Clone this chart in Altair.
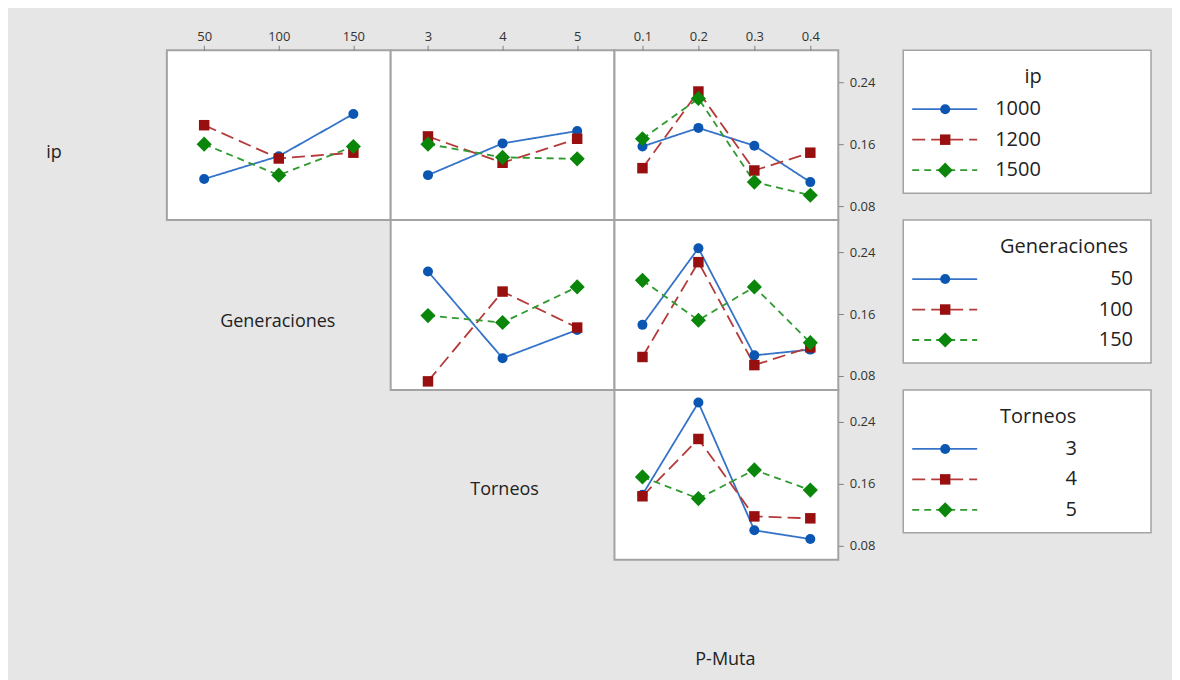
import altair as alt
import pandas as pd

# ---------------- data ----------------
gen_levels = [50, 100, 150]
tor_levels = [3, 4, 5]
pm_levels = [0.1, 0.2, 0.3, 0.4]
ip_labels = ["1000", "1200", "1500"]
gen_labels = ["50", "100", "150"]
tor_labels = ["3", "4", "5"]

# Row 1: series = ip levels
ip1000_gen = [0.115, 0.1445, 0.199]
ip1200_gen = [0.1845, 0.1415, 0.149]
ip1500_gen = [0.160, 0.120, 0.157]
ip1000_tor = [0.120, 0.161, 0.177]
ip1200_tor = [0.170, 0.136, 0.167]
ip1500_tor = [0.160, 0.143, 0.141]
ip1000_pm = [0.157, 0.181, 0.158, 0.111]
ip1200_pm = [0.129, 0.228, 0.126, 0.149]
ip1500_pm = [0.167, 0.219, 0.111, 0.094]
# Row 2: series = Generaciones levels
gen50_tor = [0.215, 0.103, 0.1395]
gen100_tor = [0.073, 0.189, 0.1425]
gen150_tor = [0.158, 0.149, 0.195]
gen50_pm = [0.146, 0.245, 0.1066, 0.114]
gen100_pm = [0.1045, 0.227, 0.094, 0.117]
gen150_pm = [0.2035, 0.152, 0.195, 0.123]
# Row 3: series = Torneos levels
tor3_pm = [0.146, 0.265, 0.100, 0.0887]
tor4_pm = [0.144, 0.218, 0.118, 0.1155]
tor5_pm = [0.169, 0.141, 0.178, 0.152]

y_ticks = [0.08, 0.16, 0.24]

# ---------------- styles ----------------
FONT = "Open Sans"
KEYS = ["a", "b", "c"]
LINE_COLORS = ["#3573c8", "#b53a3a", "#2f9a2f"]
MARK_COLORS = ["#0b56b2", "#980f0f", "#0a860a"]
DASHES = [[1, 0], [13, 6], [7, 5]]
SHAPES = ["circle", "square", "diamond"]
SIZES = [100, 110, 230]
PW, PH = 224, 170
C0W = 158
GAPW = 65
LGW, LGH = 248, 143
YDOM = [0.0619, 0.2813]
BORDER = "#a3a3a3"
BG = "#e6e6e6"

stroke_enc = alt.Stroke("k:N", scale=alt.Scale(domain=KEYS, range=LINE_COLORS), legend=None)
dash_enc = alt.StrokeDash("k:N", scale=alt.Scale(domain=KEYS, range=DASHES), legend=None)


def make_df(xs, series):
    rows = []
    for k, ys in zip(KEYS, series):
        for xv, yv in zip(xs, ys):
            rows.append({"x": xv, "y": yv, "k": k})
    return pd.DataFrame(rows)


def marker_layers(base, x, y):
    layers = []
    for key, shp, sz, col in zip(KEYS, SHAPES, SIZES, MARK_COLORS):
        layers.append(
            base.transform_filter(alt.datum.k == key)
            .mark_point(filled=True, opacity=1, shape=shp, size=sz, color=col)
            .encode(x=x, y=y)
        )
    return layers


def panel(xs, series, xdom, xfmt, show_x, show_y):
    df = make_df(xs, series)
    if show_x:
        xax = alt.Axis(orient="top", values=xs, format=xfmt, title=None, grid=False,
                       domain=False, tickSize=5, tickColor="#808080", labelColor="#333333",
                       labelFont=FONT, labelFontSize=13, labelPadding=2)
    else:
        xax = None
    if show_y:
        yax = alt.Axis(orient="right", values=y_ticks, format=".2f", title=None, grid=False,
                       domain=False, tickSize=5, tickColor="#808080", labelColor="#333333",
                       labelFont=FONT, labelFontSize=13, labelPadding=6)
    else:
        yax = None
    x = alt.X("x:Q", scale=alt.Scale(domain=xdom, nice=False, zero=False), axis=xax)
    y = alt.Y("y:Q", scale=alt.Scale(domain=YDOM, nice=False, zero=False), axis=yax)
    base = alt.Chart(df)
    line = base.mark_line(strokeWidth=1.8).encode(x=x, y=y, stroke=stroke_enc,
                                                   strokeDash=dash_enc, detail="k:N")
    return alt.layer(line, *marker_layers(base, x, y)).properties(
        width=PW, height=PH,
        view=alt.ViewBackground(fill="white", stroke=BORDER, strokeWidth=2),
    )


def text_cell(label, w, h, px=0, py=0):
    df = pd.DataFrame({"t": [label]})
    return alt.Chart(df).mark_text(font=FONT, fontSize=18, color="#222222",
                                   align="center", baseline="middle").encode(
        x=alt.value(px), y=alt.value(py), text="t:N"
    ).properties(width=w, height=h,
                 view=alt.ViewBackground(fill="transparent", stroke="transparent"))


def legend(title, labels, title_x, label_x, label_align):
    ldf = pd.DataFrame({"k": KEYS, "lab": labels})
    tdf = pd.DataFrame({"t": [title]})
    ypos = alt.Y("k:N", scale=alt.Scale(type="point", domain=KEYS, range=[59, 120], padding=0),
                 axis=None)
    base = alt.Chart(ldf)
    seg = base.mark_rule(strokeWidth=1.8).encode(
        x=alt.value(9), x2=alt.value(74), y=ypos, stroke=stroke_enc, strokeDash=dash_enc)
    pts = marker_layers(base, alt.value(42), ypos)
    labs = base.mark_text(font=FONT, fontSize=20, color="#222222", align=label_align,
                          baseline="middle").encode(x=alt.value(label_x), y=ypos, text="lab:N")
    ttl = alt.Chart(tdf).mark_text(font=FONT, fontSize=20, color="#222222", align="center",
                                   baseline="middle").encode(
        x=alt.value(title_x), y=alt.value(27), text="t:N")
    return alt.layer(seg, *pts, labs, ttl).properties(
        width=LGW, height=LGH,
        view=alt.ViewBackground(fill="white", stroke=BORDER, strokeWidth=1.5),
    )


GEN_DOM = [25, 175]
TOR_DOM = [2.5, 5.5]
PM_DOM = [0.05, 0.45]

cells = [
    # row 1
    text_cell("ip", C0W, PH, 45, 103),
    panel(gen_levels, [ip1000_gen, ip1200_gen, ip1500_gen], GEN_DOM, "d", True, False),
    panel(tor_levels, [ip1000_tor, ip1200_tor, ip1500_tor], TOR_DOM, "d", True, False),
    panel(pm_levels, [ip1000_pm, ip1200_pm, ip1500_pm], PM_DOM, ".1f", True, True),
    text_cell("", GAPW, PH),
    legend("ip", ip_labels, 130, 92, "left"),
    # row 2
    text_cell("", C0W, PH),
    text_cell("Generaciones", PW, PH, 111, 102),
    panel(tor_levels, [gen50_tor, gen100_tor, gen150_tor], TOR_DOM, "d", False, False),
    panel(pm_levels, [gen50_pm, gen100_pm, gen150_pm], PM_DOM, ".1f", False, True),
    text_cell("", GAPW, PH),
    legend("Generaciones", gen_labels, 161, 230, "right"),
    # row 3
    text_cell("", C0W, PH),
    text_cell("", PW, PH),
    text_cell("Torneos", PW, PH, 114, 100),
    panel(pm_levels, [tor3_pm, tor4_pm, tor5_pm], PM_DOM, ".1f", False, True),
    text_cell("", GAPW, PH),
    legend("Torneos", tor_labels, 135, 168, "center"),
    # row 4
    text_cell("", C0W, 122),
    text_cell("", PW, 122),
    text_cell("", PW, 122),
    text_cell("P-Muta", PW, 122, 111, 100),
    text_cell("", GAPW, 122),
    text_cell("", LGW, 122),
]

chart = alt.concat(*cells, columns=6, spacing=0, bounds="flush").properties(
    padding={"left": 0, "top": 21, "right": 20, "bottom": 0},
    background=BG,
).configure_view(stroke="transparent")

chart.save("out.html", embed_options={"renderer": "svg", "actions": False})
